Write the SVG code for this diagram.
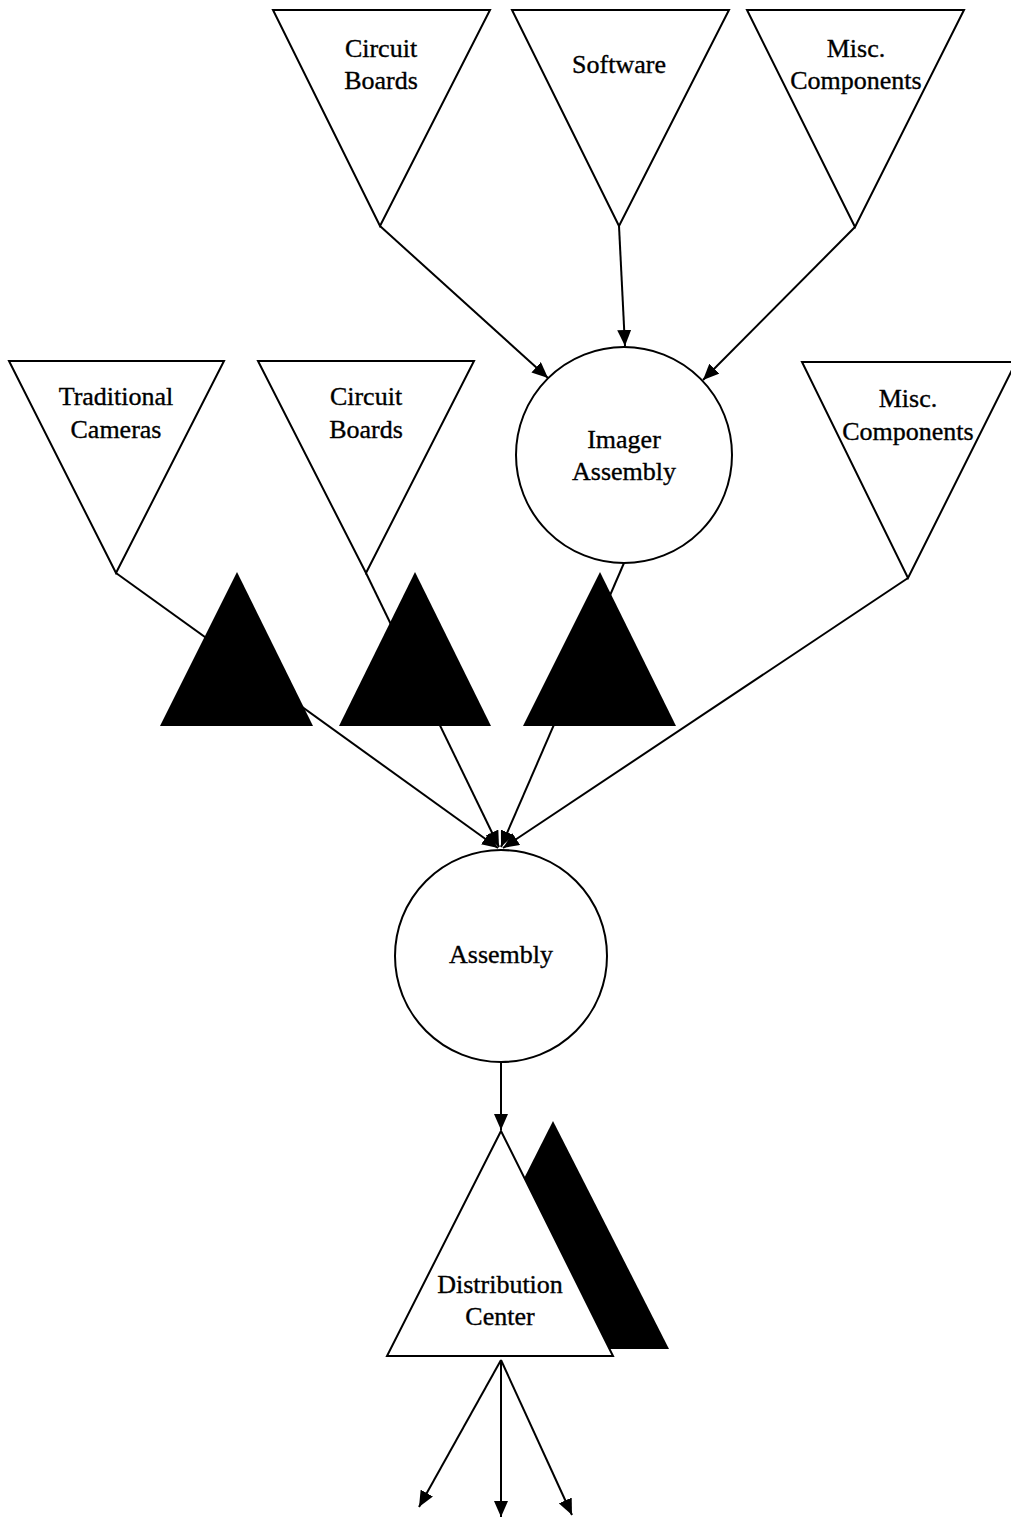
<svg xmlns="http://www.w3.org/2000/svg" width="1011" height="1517" viewBox="0 0 1011 1517">
  <style>
    .shape { fill: #fff; stroke: #000; stroke-width: 2; stroke-linejoin: miter; }
    .inv { fill: #000; stroke: none; }
    .edge { fill: none; stroke: #000; stroke-width: 2; }
    .lbl { font-family: "Liberation Serif", "Times New Roman", serif; font-size: 26px; fill: #000; stroke: #000; stroke-width: 0.35; text-anchor: middle; }
  </style>
  <defs>
    <marker id="arrow" markerUnits="userSpaceOnUse" markerWidth="17" markerHeight="14" refX="16" refY="7" orient="auto">
      <path d="M0,0 L16,7 L0,14 Z" fill="#000"/>
    </marker>
  </defs>

  <rect width="1011" height="1517" fill="#fff"/>

  <!-- flows between stages -->
  <g id="connectors">
    <line class="edge" x1="380" y1="226" x2="548" y2="378" marker-end="url(#arrow)"/>
    <line class="edge" x1="619" y1="226" x2="625" y2="346" marker-end="url(#arrow)"/>
    <line class="edge" x1="855" y1="227" x2="703" y2="380" marker-end="url(#arrow)"/>
    <line class="edge" x1="116" y1="573" x2="498" y2="848" marker-end="url(#arrow)"/>
    <line class="edge" x1="366" y1="573" x2="499" y2="847" marker-end="url(#arrow)"/>
    <line class="edge" x1="624" y1="563" x2="501" y2="847" marker-end="url(#arrow)"/>
    <line class="edge" x1="908" y1="578" x2="503" y2="848" marker-end="url(#arrow)"/>
    <line class="edge" x1="501" y1="1062" x2="501" y2="1130" marker-end="url(#arrow)"/>
    <line class="edge" x1="501" y1="1360" x2="419" y2="1507" marker-end="url(#arrow)"/>
    <line class="edge" x1="501" y1="1360" x2="501" y2="1517" marker-end="url(#arrow)"/>
    <line class="edge" x1="501" y1="1360" x2="572" y2="1515" marker-end="url(#arrow)"/>
  </g>

  <!-- supplier sources, top row -->
  <g id="circuit-boards-top">
    <polygon class="shape" points="273,10 490,10 380,226"/>
    <text class="lbl" x="381" y="57">Circuit</text>
    <text class="lbl" x="381" y="89">Boards</text>
  </g>
  <g id="software">
    <polygon class="shape" points="512,10 729,10 619,226"/>
    <text class="lbl" x="619" y="73">Software</text>
  </g>
  <g id="misc-components-top">
    <polygon class="shape" points="747,10 964,10 855,227"/>
    <text class="lbl" x="856" y="57">Misc.</text>
    <text class="lbl" x="856" y="89">Components</text>
  </g>

  <!-- supplier sources, second row -->
  <g id="traditional-cameras">
    <polygon class="shape" points="9,361 224,361 116,573"/>
    <text class="lbl" x="116" y="405">Traditional</text>
    <text class="lbl" x="116" y="438">Cameras</text>
  </g>
  <g id="circuit-boards-mid">
    <polygon class="shape" points="258,361 474,361 366,573"/>
    <text class="lbl" x="366" y="405">Circuit</text>
    <text class="lbl" x="366" y="438">Boards</text>
  </g>
  <g id="misc-components-mid">
    <polygon class="shape" points="802,362 1016,362 908,578"/>
    <text class="lbl" x="908" y="407">Misc.</text>
    <text class="lbl" x="908" y="440">Components</text>
  </g>

  <g id="imager-assembly">
    <circle class="shape" cx="624" cy="455" r="108"/>
    <text class="lbl" x="624" y="448">Imager</text>
    <text class="lbl" x="624" y="480">Assembly</text>
  </g>

  <!-- inventory buffers -->
  <g id="inventory-1">
    <polygon class="inv" points="237,572 160,726 313,726"/>
  </g>
  <g id="inventory-2">
    <polygon class="inv" points="415,572 339,726 491,726"/>
  </g>
  <g id="inventory-3">
    <polygon class="inv" points="600,572 523,726 676,726"/>
  </g>

  <g id="assembly">
    <circle class="shape" cx="501" cy="956" r="106"/>
    <text class="lbl" x="501" y="963">Assembly</text>
  </g>

  <g id="distribution-center">
    <polygon class="inv" points="553,1121 438,1349 669,1349"/>
    <polygon class="shape" points="501,1131 387,1356 613,1356"/>
    <text class="lbl" x="500" y="1293">Distribution</text>
    <text class="lbl" x="500" y="1325">Center</text>
  </g>
</svg>
